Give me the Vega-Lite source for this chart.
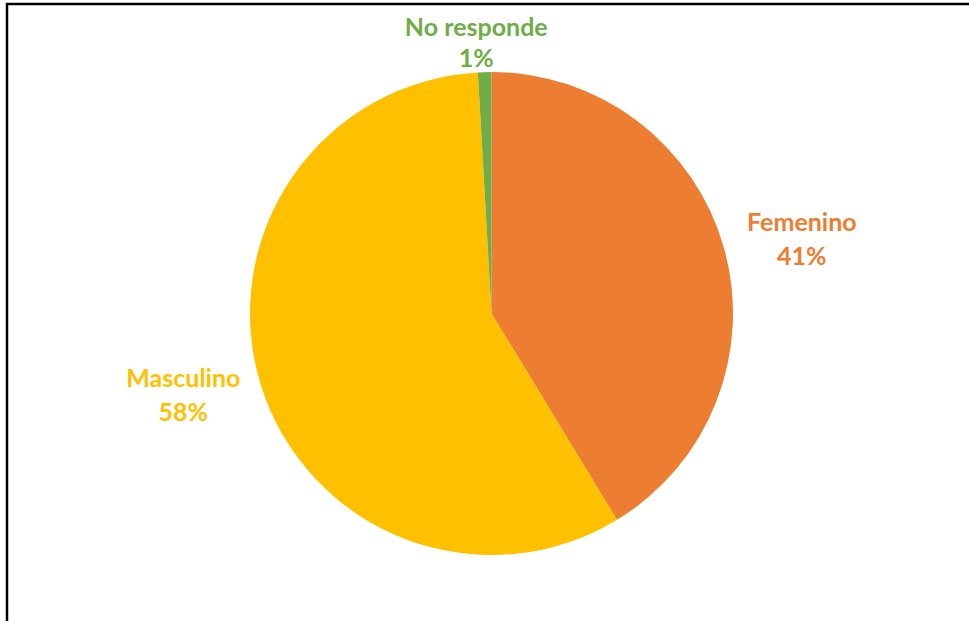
{
  "$schema": "https://vega.github.io/schema/vega-lite/v6.json",
  "width": 969,
  "height": 619,
  "autosize": {"type": "none"},
  "padding": {"left": 7, "top": 4, "right": 0, "bottom": 0},
  "background": "white",
  "config": {"view": {"stroke": null}},
  "data": {"values": [
    {"categoria": "Femenino", "valor": 41.3, "pct": "41%"},
    {"categoria": "Masculino", "valor": 57.8, "pct": "58%"},
    {"categoria": "No responde", "valor": 0.9, "pct": "1%"}
  ]},
  "layer": [
    {"mark": {"type": "rect", "fill": null, "stroke": "#000000", "strokeWidth": 2.5},
     "transform": [{"filter": "datum.categoria === 'Femenino'"}],
     "encoding": {}},
    {"mark": {"type": "arc", "outerRadius": 241.5},
     "encoding": {
       "theta": {"field": "valor", "type": "quantitative", "stack": true},
       "color": {"field": "categoria", "type": "nominal", "legend": null,
         "scale": {"domain": ["Femenino", "Masculino", "No responde"], "range": ["#ED7D31", "#FFC000", "#70AD47"]}}
     }},
    {"mark": {"type": "text", "radius": 319, "dy": -17, "thetaOffset": 0.04, "font": "Lato", "fontWeight": "bold", "fontSize": 25},
     "encoding": {
       "theta": {"field": "valor", "type": "quantitative", "stack": true},
       "color": {"field": "categoria", "type": "nominal", "legend": null},
       "text": {"field": "categoria"}, "opacity": {"condition": {"test": "datum.categoria === 'No responde'", "value": 0}, "value": 1}}},
    {"mark": {"type": "text", "radius": 319, "dy": 17, "thetaOffset": 0.04, "font": "Lato", "fontWeight": "bold", "fontSize": 25},
     "encoding": {
       "theta": {"field": "valor", "type": "quantitative", "stack": true},
       "color": {"field": "categoria", "type": "nominal", "legend": null},
       "text": {"field": "pct"}, "opacity": {"condition": {"test": "datum.categoria === 'No responde'", "value": 0}, "value": 1}}},
    {"mark": {"type": "text", "radius": 271, "dy": -15, "thetaOffset": -0.028, "font": "Lato", "fontWeight": "bold", "fontSize": 25},
     "encoding": {
       "theta": {"field": "valor", "type": "quantitative", "stack": true},
       "color": {"field": "categoria", "type": "nominal", "legend": null},
       "text": {"field": "categoria"}, "opacity": {"condition": {"test": "datum.categoria === 'No responde'", "value": 1}, "value": 0}}},
    {"mark": {"type": "text", "radius": 271, "dy": 16, "thetaOffset": -0.028, "font": "Lato", "fontWeight": "bold", "fontSize": 25},
     "encoding": {
       "theta": {"field": "valor", "type": "quantitative", "stack": true},
       "color": {"field": "categoria", "type": "nominal", "legend": null},
       "text": {"field": "pct"}, "opacity": {"condition": {"test": "datum.categoria === 'No responde'", "value": 1}, "value": 0}}}
  ]
}
